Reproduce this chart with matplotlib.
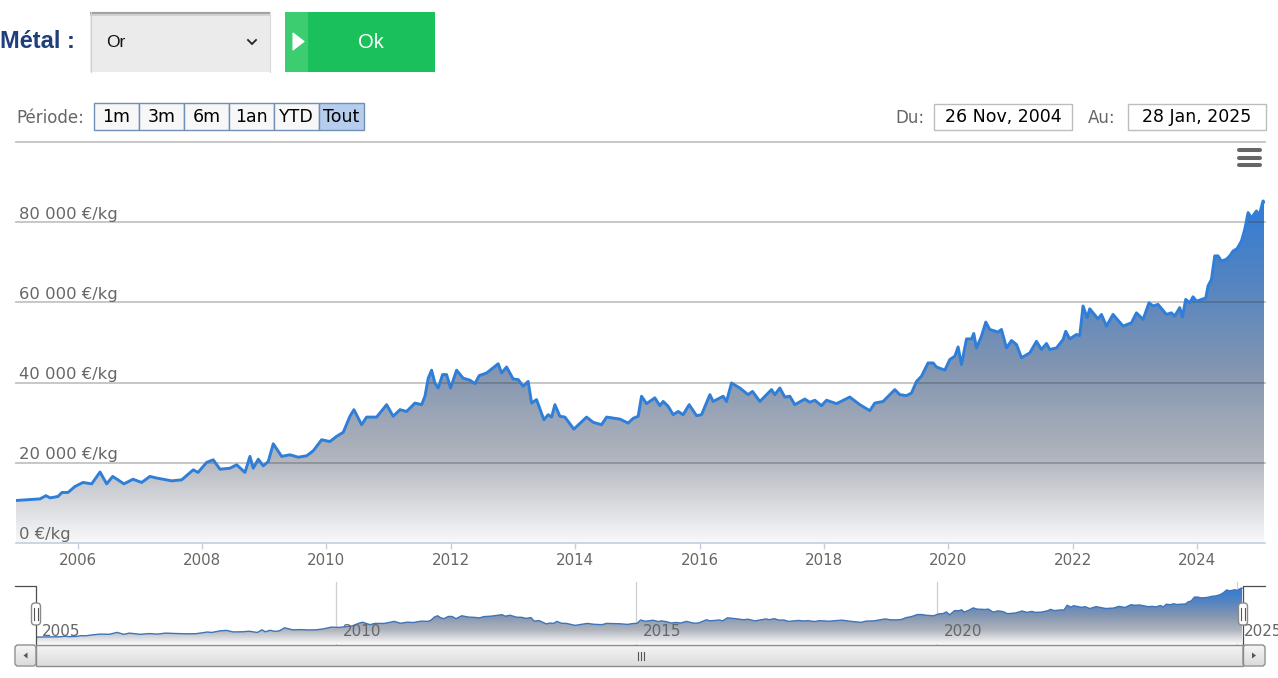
import numpy as np
import matplotlib
matplotlib.use("Agg")
import matplotlib.pyplot as plt
from matplotlib.patches import Rectangle, FancyBboxPatch, Polygon, PathPatch
from matplotlib.colors import LinearSegmentedColormap
import matplotlib.transforms as mtransforms

W, H = 1278, 678

# ---------------- data (decimal year, EUR/kg) ----------------
years = [2005.008, 2005.394, 2005.490, 2005.555, 2005.683, 2005.748, 2005.844, 2005.957,
         2006.085, 2006.225, 2006.359, 2006.466, 2006.563, 2006.744, 2006.889, 2007.029,
         2007.162, 2007.270, 2007.511, 2007.672, 2007.859, 2007.934, 2008.074, 2008.180,
         2008.288, 2008.449, 2008.556, 2008.690, 2008.770, 2008.823, 2008.904, 2008.984,
         2009.064, 2009.145, 2009.280, 2009.413, 2009.547, 2009.682, 2009.788, 2009.923,
         2010.056, 2010.164, 2010.270, 2010.378, 2010.442, 2010.566, 2010.646, 2010.807,
         2010.968, 2011.074, 2011.182, 2011.289, 2011.423, 2011.531, 2011.584, 2011.637,
         2011.691, 2011.744, 2011.797, 2011.868, 2011.932, 2011.997, 2012.093, 2012.199,
         2012.307, 2012.388, 2012.457, 2012.576, 2012.762, 2012.817, 2012.897, 2013.003,
         2013.084, 2013.164, 2013.244, 2013.299, 2013.379, 2013.497, 2013.566, 2013.621,
         2013.674, 2013.754, 2013.835, 2013.979, 2014.129, 2014.183, 2014.289, 2014.424,
         2014.505, 2014.719, 2014.852, 2014.933, 2015.013, 2015.067, 2015.148, 2015.281,
         2015.362, 2015.415, 2015.495, 2015.576, 2015.656, 2015.736, 2015.833, 2015.952,
         2016.032, 2016.166, 2016.219, 2016.380, 2016.434, 2016.514, 2016.648, 2016.781,
         2016.852, 2016.970, 2017.157, 2017.210, 2017.291, 2017.371, 2017.452, 2017.532,
         2017.693, 2017.773, 2017.854, 2017.961, 2018.042, 2018.203, 2018.416, 2018.577,
         2018.738, 2018.818, 2018.952, 2019.140, 2019.220, 2019.328, 2019.408, 2019.489,
         2019.569, 2019.675, 2019.756, 2019.810, 2019.944, 2020.024, 2020.105, 2020.158,
         2020.212, 2020.293, 2020.373, 2020.410, 2020.453, 2020.534, 2020.603, 2020.667,
         2020.801, 2020.855, 2020.936, 2021.016, 2021.097, 2021.177, 2021.310, 2021.418,
         2021.498, 2021.579, 2021.632, 2021.740, 2021.846, 2021.889, 2021.953, 2022.061,
         2022.114, 2022.167, 2022.232, 2022.275, 2022.408, 2022.463, 2022.543, 2022.649,
         2022.810, 2022.945, 2023.026, 2023.132, 2023.228, 2023.293, 2023.373, 2023.508,
         2023.588, 2023.641, 2023.722, 2023.765, 2023.818, 2023.883, 2023.936, 2023.991,
         2024.140, 2024.177, 2024.232, 2024.285, 2024.338, 2024.392, 2024.473, 2024.526,
         2024.579, 2024.644, 2024.714, 2024.768, 2024.821, 2024.875, 2024.956, 2024.998,
         2025.061, 2025.077]
prices = [10600, 11000, 11800, 11250, 11600, 12600, 12600, 14100,
          15100, 14750, 17700, 14750, 16600, 14750, 15900, 15100,
          16600, 16200, 15500, 15750, 18250, 17600, 20100, 20750,
          18400, 18650, 19500, 17600, 21600, 18650, 20900, 19250,
          20300, 24750, 21600, 22000, 21400, 21750, 23000, 25750,
          25300, 26600, 27600, 31600, 33250, 29500, 31400, 31400,
          34500, 31600, 33250, 32800, 34900, 34500, 36600, 41100,
          43100, 39900, 38650, 42000, 42000, 38650, 43100, 41100,
          40600, 39750, 41750, 42400, 44700, 42400, 43900, 40900,
          40750, 39100, 40300, 34900, 35750, 30750, 32000, 31400,
          34500, 31600, 31400, 28400, 30600, 31400, 30100, 29500,
          31400, 30900, 29900, 31100, 31600, 36600, 34750, 36200,
          34250, 35300, 34100, 32000, 32800, 32000, 34500, 31750,
          32000, 37000, 35300, 36600, 35300, 39900, 38650, 37000,
          37800, 35300, 38250, 37000, 38650, 36400, 36600, 34500,
          35900, 35100, 35600, 34250, 35600, 34750, 36400, 34500,
          33000, 34900, 35300, 38250, 37000, 36750, 37400, 40300,
          41600, 44900, 44900, 43900, 43100, 45750, 46600, 48900,
          44500, 50900, 50900, 52250, 48650, 51600, 55100, 53250,
          52600, 53250, 48650, 50500, 49500, 46200, 47400, 50300,
          48250, 49750, 48250, 48650, 50750, 52800, 50900, 52000,
          51750, 59100, 56200, 58400, 55900, 57000, 54100, 57000,
          54100, 54900, 57400, 55750, 59900, 59100, 59500, 57000,
          57400, 56600, 58700, 56400, 60750, 59900, 61400, 60300,
          61100, 64100, 65750, 71600, 71600, 70300, 70750, 71600,
          72800, 73400, 75300, 78250, 82400, 81100, 82800, 81600,
          85300, 85000]

y_ticks = [0, 20000, 40000, 60000, 80000]
y_tick_labels = ["0 €/kg", "20 000 €/kg", "40 000 €/kg", "60 000 €/kg", "80 000 €/kg"]
grid_values = [20000, 40000, 60000, 80000, 100000]
x_ticks = [2006, 2008, 2010, 2012, 2014, 2016, 2018, 2020, 2022, 2024]
x_tick_labels = [str(v) for v in x_ticks]
nav_ticks = [2005, 2010, 2015, 2020, 2025]
nav_tick_labels = [str(v) for v in nav_ticks]
period_buttons = ["1m", "3m", "6m", "1an", "YTD", "Tout"]
selected_button = "Tout"
metal_label = "Métal :"
metal_value = "Or"
ok_label = "Ok"
periode_label = "Période:"
date_from_label, date_from = "Du:", "26 Nov, 2004"
date_to_label, date_to = "Au:", "28 Jan, 2025"

x_range = (2005.008, 2025.093)
y_range = (0, 100000)
nav_y_range = (0, 90000)

# ---------------- styles ----------------
SANS = ["DejaVu Sans"]
ARIAL = ["Liberation Sans", "DejaVu Sans"]
GRAY_TXT = "#666666"
LINE_BLUE = "#2f7ed8"
grad_cmap = LinearSegmentedColormap.from_list(
    "area", [(0.0, (50/255, 124/255, 214/255)),
             (0.25, (86/255, 133/255, 192/255)),
             (0.5, (132/255, 150/255, 177/255)),
             (0.75, (176/255, 180/255, 188/255)),
             (1.0, (249/255, 249/255, 250/255))])
btn_cmap = LinearSegmentedColormap.from_list("btn", ["#f4f4f4", "#dcdcdc"])

fig = plt.figure(figsize=(W / 100, H / 100), dpi=100)


def px_axes(l, t, r, b, z):
    a = fig.add_axes([l / W, 1 - b / H, (r - l) / W, (b - t) / H])
    a.set_zorder(z)
    return a


ui = px_axes(0, 0, W, H, 0)
ui.set_xlim(0, W)
ui.set_ylim(H, 0)
ui.axis("off")

top = px_axes(0, 0, W, H, 10)
top.set_xlim(0, W)
top.set_ylim(H, 0)
top.axis("off")
top.patch.set_alpha(0)


def vgrad(ax, l, t, r, b, cmap, z=1):
    g = np.linspace(0, 1, 64).reshape(-1, 1)
    ax.imshow(g, cmap=cmap, aspect="auto", extent=(l, r, b, t), origin="upper",
              zorder=z, interpolation="bilinear")


# ---------------- header UI ----------------
ui.text(0, 42, metal_label, family=ARIAL, fontsize=17, weight="bold", color="#1e3f7a",
        ha="left", va="center")
ui.add_patch(Rectangle((90, 12), 180, 60, fc="#ebebeb", ec="none", zorder=1))
ui.plot([90, 270], [13, 13], color="#a3a3a3", lw=1.6, zorder=2, solid_capstyle="butt")
ui.plot([90, 270], [14.8, 14.8], color="#cdcdcd", lw=1.2, zorder=2, solid_capstyle="butt")
ui.plot([90.5, 90.5], [12, 72], color="#cfcfcf", lw=0.8, zorder=2)
ui.plot([269.5, 269.5], [12, 72], color="#dadada", lw=0.8, zorder=2)
ui.text(106, 42.5, metal_value, family=ARIAL, fontsize=12.5, color="#111111",
        ha="left", va="center", zorder=3)
ui.plot([248, 252, 256], [40, 44, 40], color="#222222", lw=1.3, zorder=3,
        solid_joinstyle="miter")

ui.add_patch(Rectangle((285, 12), 150, 60, fc="#1ac15a", ec="none", zorder=1))
ui.add_patch(Rectangle((285, 12), 23, 60, fc="#3ccd71", ec="none", zorder=2))
ui.add_patch(Polygon([(293, 33), (304, 41.5), (293, 50)], closed=True, fc="white",
                     ec="white", lw=0.8, joinstyle="round", zorder=3))
ui.text(371, 42.5, ok_label, family=ARIAL, fontsize=14.5, color="white",
        ha="center", va="center", zorder=3)

# range selector
ui.text(16, 118, periode_label, family=SANS, fontsize=12, color=GRAY_TXT,
        ha="left", va="center")
bx0, bw = 94, 45
for i, lab in enumerate(period_buttons):
    l = bx0 + i * bw
    fc = "#b7cdee" if lab == selected_button else "#f7f7f7"
    ui.add_patch(Rectangle((l, 103), bw, 27, fc=fc, ec="#6f8fb5", lw=1.0, zorder=2))
    ui.text(l + bw / 2, 117.5, lab, family=SANS, fontsize=12.5, color="black",
            ha="center", va="center", zorder=3)

ui.text(895, 118, date_from_label, family=SANS, fontsize=12, color=GRAY_TXT,
        ha="left", va="center")
ui.add_patch(Rectangle((934, 103.5), 138, 26.5, fc="white", ec="#bdbdbd", lw=1.0, zorder=2))
ui.text(1003, 117.5, date_from, family=SANS, fontsize=12.5, color="black",
        ha="center", va="center", zorder=3)
ui.text(1088, 118, date_to_label, family=SANS, fontsize=12, color=GRAY_TXT,
        ha="left", va="center")
ui.add_patch(Rectangle((1128, 103.5), 138, 26.5, fc="white", ec="#bdbdbd", lw=1.0, zorder=2))
ui.text(1197, 117.5, date_to, family=SANS, fontsize=12.5, color="black",
        ha="center", va="center", zorder=3)

# hamburger menu
for yy in (150.3, 158.0, 165.4):
    ui.plot([1238.5, 1259.5], [yy, yy], color="#666666", lw=2.9, solid_capstyle="round",
            zorder=3)

# ---------------- main chart ----------------
ax = px_axes(16, 142, 1265, 543, 2)
ax.patch.set_alpha(0)
x = np.array(years)
y = np.array(prices)


def gradient_area(a, xs, ys, vtop, z):
    poly = a.fill_between(xs, ys, 0, color="none", lw=0)
    path = poly.get_paths()[0]
    patch = PathPatch(path, transform=a.transData, fc="none", ec="none")
    a.add_patch(patch)
    g = np.linspace(0, 1, 256).reshape(-1, 1)
    im = a.imshow(g, cmap=grad_cmap, aspect="auto", extent=(xs[0], xs[-1], 0, vtop),
                  origin="upper", zorder=z, interpolation="bilinear")
    im.set_clip_path(patch)


gradient_area(ax, x, y, y.max(), 1)
for gv in grid_values:
    ax.axhline(gv, color=(0.22, 0.22, 0.22, 0.30), lw=1.3, zorder=2, clip_on=False)
ax.plot(x, y, color=LINE_BLUE, lw=2.1, zorder=3, solid_joinstyle="round")
ax.set_xlim(*x_range)
ax.set_ylim(*y_range)
for s in ("top", "left", "right"):
    ax.spines[s].set_visible(False)
ax.spines["bottom"].set_color("#c0d0e0")
ax.spines["bottom"].set_linewidth(1.2)
ax.set_xticks(x_ticks)
ax.set_xticklabels(x_tick_labels, family=SANS)
ax.tick_params(axis="x", direction="out", length=4.6, width=1.0, color="#c0d0e0",
               labelcolor=GRAY_TXT, labelsize=10.8, pad=2.5)
ax.set_yticks([])
lab_tr = mtransforms.blended_transform_factory(ax.transAxes, ax.transData) + \
    mtransforms.ScaledTranslation(0, 3.5 / 100, fig.dpi_scale_trans)
for v, lab in zip(y_ticks, y_tick_labels):
    ax.text(0.0024, v, lab, transform=lab_tr, family=SANS, fontsize=11.8, color=GRAY_TXT,
            ha="left", va="baseline", zorder=5)

# ---------------- navigator ----------------
nav = px_axes(36, 585, 1243, 644, 2)
nav.patch.set_alpha(0)
gradient_area(nav, x, y, y.max(), 1)
nav.plot(x, y, color="#3f74b8", lw=1.0, zorder=3)
nav.set_xlim(*x_range)
nav.set_ylim(*nav_y_range)
nav.axis("off")
nav_lab_tr = nav.transData + mtransforms.ScaledTranslation(6.5 / 100, 0, fig.dpi_scale_trans)
nav_lab_y = nav_y_range[1] * (644 - 632) / 59.0
for t, lab in zip(nav_ticks, nav_tick_labels):
    if t > nav_ticks[0]:
        nav.plot([t, t], [0, nav_y_range[1] * (644 - 582) / 59.0], color="#cfcfcf",
                 lw=0.9, zorder=0, clip_on=False)
    nav.text(t, nav_lab_y, lab, transform=nav_lab_tr, family=SANS, fontsize=11,
             color=GRAY_TXT, ha="left", va="center", zorder=4, clip_on=False)

# navigator outline and handles
top.plot([15, 36, 36], [585.5, 585.5, 644], color="#4d4d4d", lw=0.9)
top.plot([1243, 1243, 1265], [644, 585.5, 585.5], color="#4d4d4d", lw=0.9)
for hx in (36, 1243):
    top.add_patch(FancyBboxPatch((hx - 4.5, 603), 9, 22,
                                 boxstyle="round,pad=0,rounding_size=3.5",
                                 fc="white", ec="#8a8a8a", lw=1.0, zorder=3))
    for dx in (-1.6, 1.6):
        top.plot([hx + dx, hx + dx], [608, 620], color="#555555", lw=0.8, zorder=4)

# scrollbar
vgrad(top, 36, 645, 1243, 666, btn_cmap, z=1)
top.add_patch(Rectangle((36, 645), 1207, 21, fc="none", ec="#8c8c8c", lw=1.0, zorder=2))
for gx in (637.5, 640.5, 643.5):
    top.plot([gx, gx], [651.5, 659.5], color="#555555", lw=0.8, zorder=3)
for l, r, pts in ((15, 36, [(27.5, 652.5), (27.5, 658.5), (23.5, 655.5)]),
                  (1243, 1265, [(1252, 652.5), (1252, 658.5), (1256, 655.5)])):
    vgrad(top, l + 1, 646, r - 1, 665, btn_cmap, z=1)
    top.add_patch(FancyBboxPatch((l, 645), r - l, 21, boxstyle="round,pad=0,rounding_size=3",
                                 fc="none", ec="#8c8c8c", lw=1.0, zorder=2))
    top.add_patch(Polygon(pts, closed=True, fc="#555555", ec="none", zorder=3))
top.set_xlim(0, W)
top.set_ylim(H, 0)

fig.savefig("out.png", dpi=100)
